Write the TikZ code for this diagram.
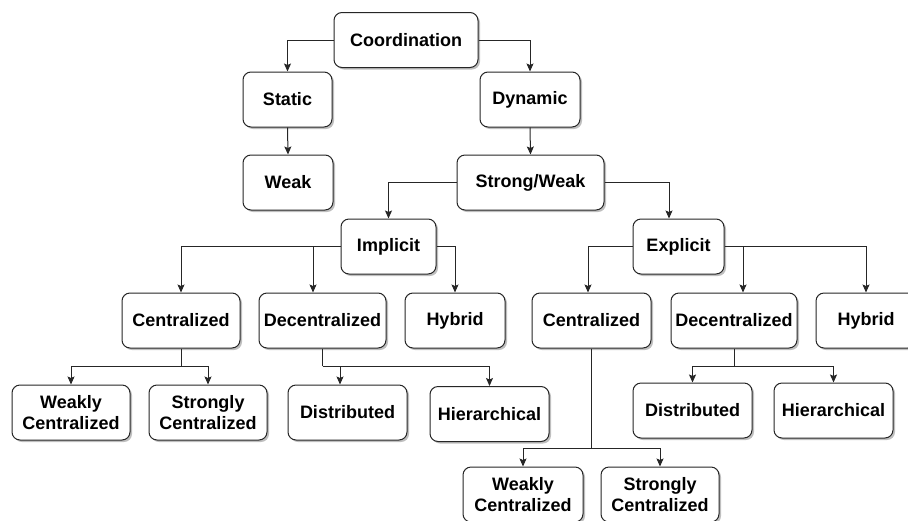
\documentclass[tikz,border=0pt]{standalone}
\usepackage{fontspec}
\setmainfont{Liberation Sans}
\usetikzlibrary{arrows.meta,shadows}
\begin{document}
\begin{tikzpicture}[x=1pt,y=-1pt,
  box/.style={draw=black!85, line width=1pt, rounded corners=8pt, fill=white,
    minimum height=55pt, inner sep=0pt, align=center,
    font=\fontsize{18}{21.5}\selectfont\bfseries,
    drop shadow={shadow xshift=2pt, shadow yshift=-2pt, fill=black, opacity=0.25}},
  arr/.style={draw=black!85, line width=1pt, -{Stealth[length=8pt,width=7pt,inset=1.5pt]}},
  ln/.style={draw=black!85, line width=1pt}]
\useasboundingbox (0,0) rectangle (908,520);
% nodes
\node[box, minimum width=144pt] (coord) at (406,40) {Coordination};
\node[box, minimum width=89pt] (static) at (287.5,99.5) {Static};
\node[box, minimum width=100pt] (dynamic) at (530,99.5) {Dynamic};
\node[box, minimum width=90pt] (weak) at (288,182.5) {Weak};
\node[box, minimum width=147pt] (sw) at (530.5,182.5) {Strong/Weak};
\node[box, minimum width=95pt] (impl) at (388.5,246.5) {Implicit};
\node[box, minimum width=91pt] (expl) at (678.5,246.5) {Explicit};
\node[box, minimum width=118pt] (cenL) at (181,320.5) {Centralized};
\node[box, minimum width=127pt] (decL) at (322.5,320.5) {Decentralized};
\node[box, minimum width=100pt] (hybL) at (455,320.5) {Hybrid};
\node[box, minimum width=119pt] (cenR) at (591.5,320.5) {Centralized};
\node[box, minimum width=126pt] (decR) at (734,320.5) {Decentralized};
\node[box, minimum width=100pt] (hybR) at (866,320.5) {Hybrid};
\node[box, minimum width=118pt] (wcL) at (71,412.5) {Weakly\\Centralized};
\node[box, minimum width=118pt] (scL) at (208,412.5) {Strongly\\Centralized};
\node[box, minimum width=119pt] (distL) at (347.5,412.5) {Distributed};
\node[box, minimum width=119pt] (hierL) at (489.5,414) {Hierarchical};
\node[box, minimum width=119pt] (distR) at (692.5,410.5) {Distributed};
\node[box, minimum width=119pt] (hierR) at (833.5,410.5) {Hierarchical};
\node[box, minimum width=120pt] (wcR) at (523,494.5) {Weakly\\Centralized};
\node[box, minimum width=118pt] (scR) at (660,494.5) {Strongly\\Centralized};
% connectors
\draw[arr] (coord.west) -| (static.north);
\draw[arr] (coord.east) -| (dynamic.north);
\draw[arr] (static.south) -- (weak.north);
\draw[arr] (dynamic.south) -- (sw.north);
\draw[arr] (sw.west) -| (impl.north);
\draw[arr] (sw.east) -| ([xshift=-9.5pt]expl.north);
\draw[arr] (impl.west) -| (cenL.north);
\draw[arr] (impl.west) -| ([xshift=-9.5pt]decL.north);
\draw[arr] (impl.east) -| (hybL.north);
\draw[arr] (expl.west) -| ([xshift=-3.5pt]cenR.north);
\draw[arr] (expl.east) -| ([xshift=9pt]decR.north);
\draw[arr] (expl.east) -| (hybR.north);
\coordinate (jcL) at (181,366);
\draw[ln] (cenL.south) -- (jcL);
\draw[arr] (jcL) -| (wcL.north);
\draw[arr] (jcL) -| (scL.north);
\coordinate (jdL) at (322.5,366);
\draw[ln] (decL.south) -- (jdL);
\draw[arr] (jdL) -| ([xshift=-7.5pt]distL.north);
\draw[arr] (jdL) -| (hierL.north);
\coordinate (jdR) at (734,366);
\draw[ln] (decR.south) -- (jdR);
\draw[arr] (jdR) -| (distR.north);
\draw[arr] (jdR) -| (hierR.north);
\coordinate (jcR) at (591.5,448);
\draw[ln] (cenR.south) -- (jcR);
\draw[arr] (jcR) -| (wcR.north);
\draw[arr] (jcR) -| (scR.north);
\end{tikzpicture}
\end{document}
